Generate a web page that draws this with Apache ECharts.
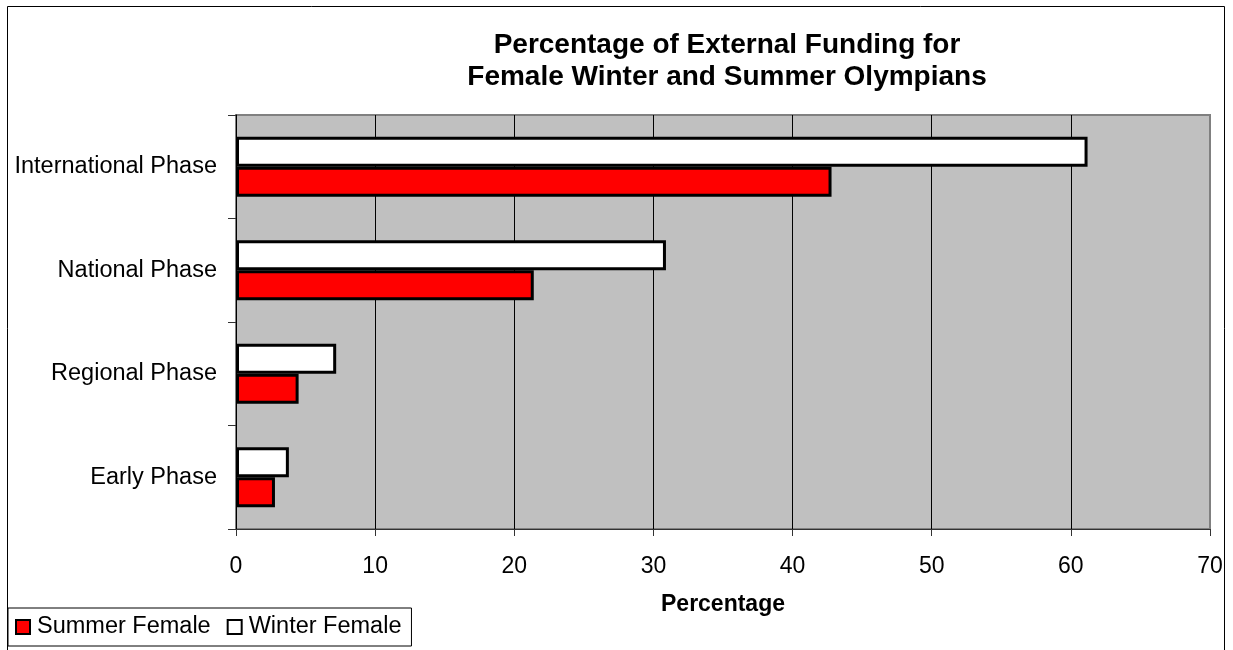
<!DOCTYPE html>
<html><head><meta charset="utf-8">
<script src="https://cdn.jsdelivr.net/npm/echarts@6/dist/echarts.min.js"></script>
<style>html,body{margin:0;padding:0;background:#fff}#c{width:1233px;height:650px}</style>
</head><body><div id="c"></div>
<script>
const categories = ['Early Phase', 'Regional Phase', 'National Phase', 'International Phase'];
const summerFemale = [2.8, 4.5, 21.4, 42.8];
const winterFemale = [3.8, 7.2, 30.9, 61.2];
const xTicks = { min: 0, max: 70, interval: 10 };

const chart = echarts.init(document.getElementById('c'));
const font = 'Liberation Sans, Arial, sans-serif';
chart.setOption({
  animation: false,
  backgroundColor: '#fff',
  textStyle: { fontFamily: font },
  title: {
    text: 'Percentage of External Funding for\nFemale Winter and Summer Olympians',
    left: 722, top: 24, textAlign: 'center',
    textStyle: { fontFamily: font, fontSize: 28, fontWeight: 'bold', color: '#000', lineHeight: 32 }
  },
  graphic: [{
    type: 'rect', z: -10, silent: true,
    shape: { x: 7.5, y: 6.5, width: 1217, height: 700 },
    style: { fill: 'none', stroke: '#000', lineWidth: 1 }
  }],
  legend: {
    left: 8, top: 608, orient: 'horizontal',
    padding: [7, 10, 7, 7], itemGap: 16,
    borderColor: '#000', borderWidth: 1, backgroundColor: '#fff',
    itemWidth: 14, itemHeight: 14, icon: 'rect',
    itemStyle: { borderColor: '#000', borderWidth: 2 },
    textStyle: { fontFamily: font, fontSize: 23.5, color: '#000', padding: [0, 0, 0, 2] },
    data: ['Summer Female', 'Winter Female']
  },
  grid: {
    left: 236, right: 23, top: 115, bottom: 121,
    show: true, backgroundColor: '#c0c0c0', borderColor: '#808080', borderWidth: 2
  },
  xAxis: {
    type: 'value', min: xTicks.min, max: xTicks.max, interval: xTicks.interval,
    name: 'Percentage', nameLocation: 'middle', nameGap: 64,
    nameTextStyle: { fontFamily: font, fontSize: 23, fontWeight: 'bold', color: '#000' },
    axisLine: { show: true, lineStyle: { color: '#333', width: 1 } },
    axisTick: { show: true, length: 7, lineStyle: { color: '#333' } },
    axisLabel: { fontFamily: font, fontSize: 23, color: '#000', margin: 26 },
    splitLine: { show: true, showMinLine: false, showMaxLine: false, lineStyle: { color: '#000', width: 1 } }
  },
  yAxis: {
    type: 'category', data: categories,
    axisLine: { show: true, onZero: false, lineStyle: { color: '#000', width: 1 } },
    axisTick: { show: true, length: 8, alignWithLabel: false, lineStyle: { color: '#333' } },
    axisLabel: { fontFamily: font, fontSize: 23.5, color: '#000', margin: 19 },
    splitLine: { show: false }
  },
  series: [
    {
      name: 'Winter Female', type: 'bar', data: winterFemale,
      barGap: '0%', barCategoryGap: '42%',
      itemStyle: { color: '#ffffff', borderColor: '#000', borderWidth: 3 }
    },
    {
      name: 'Summer Female', type: 'bar', data: summerFemale,
      barGap: '0%', barCategoryGap: '42%',
      itemStyle: { color: '#ff0000', borderColor: '#000', borderWidth: 3 }
    }
  ]
});
</script></body></html>
